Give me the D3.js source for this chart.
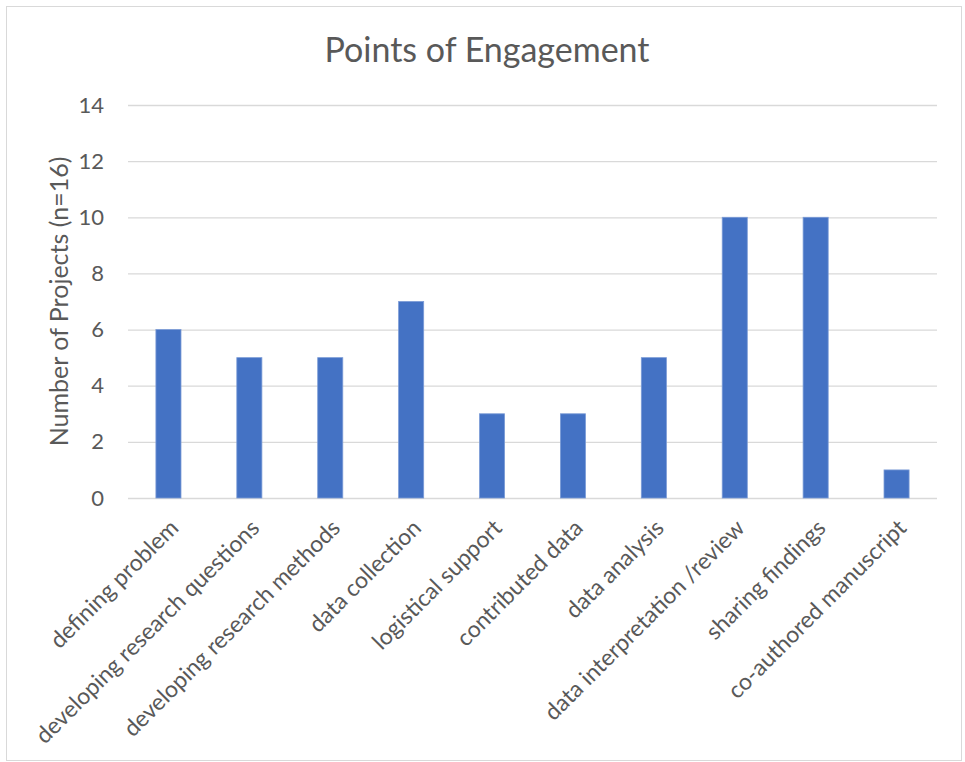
<!DOCTYPE html>
<html><head><meta charset="utf-8">
<script src="https://cdn.jsdelivr.net/npm/d3@7"></script>
<style>
html,body{margin:0;padding:0;background:#fff;}
text{font-family:Lato, "Open Sans", sans-serif;fill:#595959;}
</style></head>
<body><svg id="c" width="965" height="762"></svg>
<script>
const categories = ["defining problem","developing research questions","developing research methods","data collection","logistical support","contributed data","data analysis","data interpretation /review","sharing findings","co-authored manuscript"];
const values = [6,5,5,7,3,3,5,10,10,1];
const yTicks = [0,2,4,6,8,10,12,14];
const title = "Points of Engagement";
const yTitle = "Number of Projects (n=16)";

const svg = d3.select("#c");
svg.append("rect").attr("x",6.5).attr("y",6.5).attr("width",955).attr("height",754)
  .attr("fill","#fff").attr("stroke","#d9d9d9").attr("stroke-width",1);

const m = {left:128, right:937, top:105, bottom:498};
const x = d3.scaleBand().domain(categories).range([m.left,m.right]).paddingInner(0.69).paddingOuter(0.345);
const y = d3.scaleLinear().domain([0,14]).range([m.bottom,m.top]);

const yAxis = svg.append("g").attr("transform",`translate(${m.left},0)`)
  .call(d3.axisLeft(y).tickValues(yTicks).tickSize(-(m.right-m.left)).tickPadding(24));
yAxis.select(".domain").remove();
yAxis.selectAll(".tick line").attr("stroke","#d9d9d9").attr("stroke-width",1.3);
yAxis.selectAll(".tick text").attr("font-size",22).style("fill","#595959").style("font-family","Lato");

svg.append("g").selectAll("rect").data(values).join("rect")
  .attr("x",(d,i)=>x(categories[i])).attr("width",x.bandwidth())
  .attr("y",d=>y(d)).attr("height",d=>y(0)-y(d))
  .attr("fill","#4472c4").attr("stroke","#7b9bd6").attr("stroke-width",0.8);

const xAxis = svg.append("g").attr("transform",`translate(0,${m.bottom})`)
  .call(d3.axisBottom(x).tickSize(0).tickPadding(0));
xAxis.select(".domain").remove();
xAxis.selectAll(".tick text")
  .attr("font-size",23).style("fill","#595959").style("font-family","Lato")
  .attr("text-anchor","end").attr("x",0).attr("y",0).attr("dy","0.7em")
  .attr("transform","translate(0,20) rotate(-45)");

svg.append("text").attr("x",487).attr("y",62).attr("text-anchor","middle")
  .attr("font-size",34).text(title);

svg.append("text").attr("transform",`translate(68,${(m.top+m.bottom)/2}) rotate(-90)`)
  .attr("text-anchor","middle").attr("font-size",25).text(yTitle);
</script></body></html>
